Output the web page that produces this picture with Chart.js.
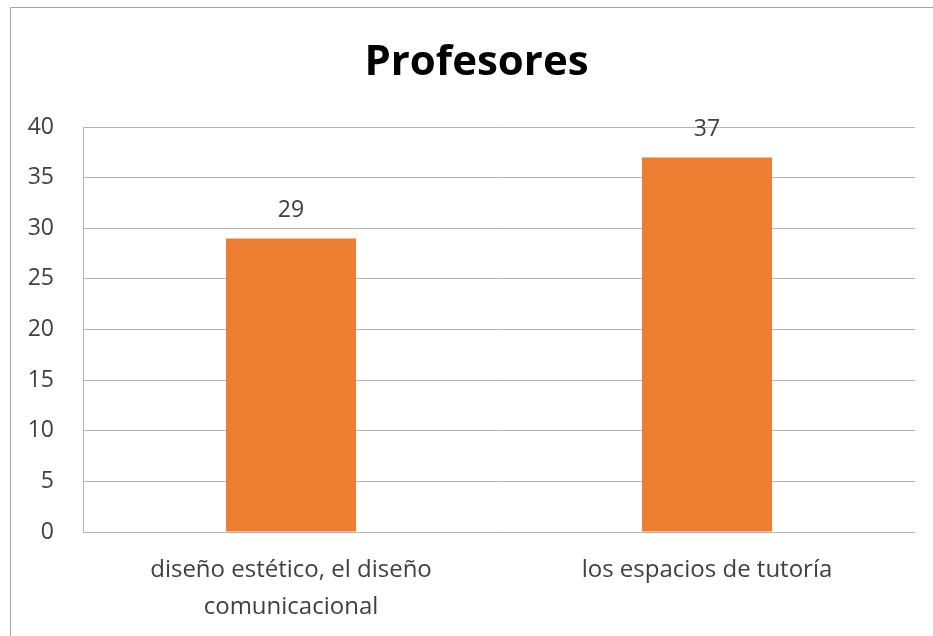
<!DOCTYPE html>
<html>
<head>
<meta charset="utf-8">
<script src="https://cdn.jsdelivr.net/npm/chart.js@4.4.0/dist/chart.umd.min.js"></script>
<style>
  html, body { margin: 0; padding: 0; background: #ffffff; }
  #wrap { position: relative; width: 933px; height: 636px; overflow: hidden; }
  canvas { position: absolute; left: 0; top: 0; }
</style>
</head>
<body>
<div id="wrap"><canvas id="c" width="933" height="636"></canvas></div>
<script>
const chartTitle = "Profesores";
const categories = [["diseño estético, el diseño", "comunicacional"], "los espacios de tutoría"];
const values = [29, 37];
const yTicks = [0, 5, 10, 15, 20, 25, 30, 35, 40];

const FONT = "'Open Sans', Lato, sans-serif";
const GRID = "#b4b4b4";

const frame = {
  id: "frame",
  beforeDraw(chart) {
    const ctx = chart.ctx;
    ctx.save();
    ctx.fillStyle = "#ffffff";
    ctx.fillRect(0, 0, chart.width, chart.height);
    ctx.strokeStyle = "#a6a6a6";
    ctx.lineWidth = 1;
    ctx.strokeRect(10.5, 7.5, chart.width + 20, chart.height + 20);
    ctx.restore();
  }
};

const valueLabels = {
  id: "valueLabels",
  afterDatasetsDraw(chart) {
    const ctx = chart.ctx;
    const meta = chart.getDatasetMeta(0);
    ctx.save();
    ctx.font = "23px " + FONT;
    ctx.fillStyle = "#404040";
    ctx.textAlign = "center";
    ctx.textBaseline = "middle";
    meta.data.forEach((bar, i) => {
      ctx.fillText(String(values[i]), bar.x, bar.y - 28);
    });
    ctx.restore();
  }
};

new Chart(document.getElementById("c"), {
  type: "bar",
  data: {
    labels: categories,
    datasets: [{
      data: values,
      yAxisID: "y",
      backgroundColor: "#ED7D31",
      borderWidth: 0,
      categoryPercentage: 1,
      barPercentage: 0.3125
    }]
  },
  options: {
    responsive: false,
    animation: false,
    devicePixelRatio: 1,
    layout: { padding: { left: 20, right: 0, top: 0, bottom: 0 } },
    plugins: {
      legend: { display: false },
      tooltip: { enabled: false },
      title: {
        display: true,
        text: chartTitle,
        color: "#000000",
        font: { family: FONT, size: 42, weight: "bold", lineHeight: 1.2 },
        padding: { top: 38, bottom: 38.6 }
      }
    },
    scales: {
      x: {
        grid: { display: false, drawTicks: false },
        border: { display: false },
        ticks: {
          color: "#404040",
          font: { family: FONT, size: 24, lineHeight: 1.52 },
          padding: 20,
          maxRotation: 0,
          autoSkip: false
        },
        afterFit(s) { s.height = 104; }
      },
      y: {
        position: "left",
        min: 0,
        max: 40,
        afterBuildTicks(s) { s.ticks = yTicks.map(v => ({ value: v })); },
        grid: { color: GRID, lineWidth: 1, drawTicks: false },
        border: { display: true, color: GRID, width: 1 },
        ticks: {
          color: "#404040",
          font: { family: FONT, size: 23 },
          padding: 29
        },
        afterFit(s) { s.width = 63; }
      },
      yRight: {
        position: "right",
        display: true,
        grid: { display: false, drawTicks: false },
        border: { display: false },
        ticks: { display: false },
        afterFit(s) { s.width = 18; }
      }
    }
  },
  plugins: [frame, valueLabels]
});
</script>
</body>
</html>
